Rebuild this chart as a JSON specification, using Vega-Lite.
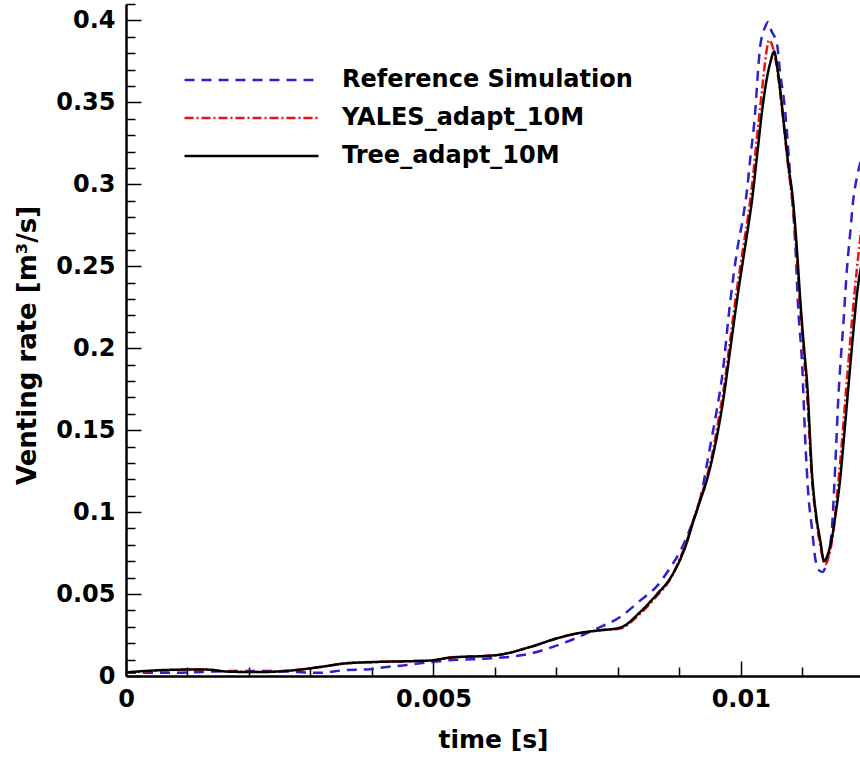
{
  "$schema": "https://vega.github.io/schema/vega-lite/v6.json",
  "width": 734,
  "height": 672,
  "autosize": {"type": "none"},
  "padding": {"left": 126, "top": 4, "right": 0, "bottom": 86},
  "background": "white",
  "config": {"view": {"stroke": null}, "font": "DejaVu Sans"},
  "data": {"values": [
    {"s":"Reference Simulation","t":0,"v":0.002},
    {"s":"Reference Simulation","t":0.000830,"v":0.002},
    {"s":"Reference Simulation","t":0.001643,"v":0.003},
    {"s":"Reference Simulation","t":0.002343,"v":0.003},
    {"s":"Reference Simulation","t":0.003157,"v":0.002},
    {"s":"Reference Simulation","t":0.003596,"v":0.0037},
    {"s":"Reference Simulation","t":0.003921,"v":0.004},
    {"s":"Reference Simulation","t":0.004247,"v":0.0055},
    {"s":"Reference Simulation","t":0.004572,"v":0.0067},
    {"s":"Reference Simulation","t":0.004946,"v":0.0085},
    {"s":"Reference Simulation","t":0.005223,"v":0.0095},
    {"s":"Reference Simulation","t":0.006037,"v":0.011},
    {"s":"Reference Simulation","t":0.006460,"v":0.0128},
    {"s":"Reference Simulation","t":0.007110,"v":0.020},
    {"s":"Reference Simulation","t":0.007664,"v":0.029},
    {"s":"Reference Simulation","t":0.008038,"v":0.036},
    {"s":"Reference Simulation","t":0.008363,"v":0.046},
    {"s":"Reference Simulation","t":0.008640,"v":0.055},
    {"s":"Reference Simulation","t":0.008851,"v":0.066},
    {"s":"Reference Simulation","t":0.009014,"v":0.076},
    {"s":"Reference Simulation","t":0.009177,"v":0.090},
    {"s":"Reference Simulation","t":0.009340,"v":0.108},
    {"s":"Reference Simulation","t":0.009502,"v":0.140},
    {"s":"Reference Simulation","t":0.009600,"v":0.160},
    {"s":"Reference Simulation","t":0.009698,"v":0.183},
    {"s":"Reference Simulation","t":0.009828,"v":0.228},
    {"s":"Reference Simulation","t":0.009942,"v":0.260},
    {"s":"Reference Simulation","t":0.010039,"v":0.280},
    {"s":"Reference Simulation","t":0.010104,"v":0.297},
    {"s":"Reference Simulation","t":0.010153,"v":0.315},
    {"s":"Reference Simulation","t":0.010235,"v":0.344},
    {"s":"Reference Simulation","t":0.010283,"v":0.370},
    {"s":"Reference Simulation","t":0.010316,"v":0.384},
    {"s":"Reference Simulation","t":0.010397,"v":0.396},
    {"s":"Reference Simulation","t":0.010446,"v":0.399},
    {"s":"Reference Simulation","t":0.010495,"v":0.394},
    {"s":"Reference Simulation","t":0.010592,"v":0.385},
    {"s":"Reference Simulation","t":0.010641,"v":0.368},
    {"s":"Reference Simulation","t":0.010722,"v":0.345},
    {"s":"Reference Simulation","t":0.010755,"v":0.330},
    {"s":"Reference Simulation","t":0.010804,"v":0.305},
    {"s":"Reference Simulation","t":0.010885,"v":0.265},
    {"s":"Reference Simulation","t":0.010934,"v":0.225},
    {"s":"Reference Simulation","t":0.010999,"v":0.190},
    {"s":"Reference Simulation","t":0.011048,"v":0.145},
    {"s":"Reference Simulation","t":0.011097,"v":0.112},
    {"s":"Reference Simulation","t":0.011162,"v":0.089},
    {"s":"Reference Simulation","t":0.011211,"v":0.072},
    {"s":"Reference Simulation","t":0.011260,"v":0.065},
    {"s":"Reference Simulation","t":0.011325,"v":0.0635},
    {"s":"Reference Simulation","t":0.011390,"v":0.068},
    {"s":"Reference Simulation","t":0.011487,"v":0.092},
    {"s":"Reference Simulation","t":0.011520,"v":0.115},
    {"s":"Reference Simulation","t":0.011552,"v":0.140},
    {"s":"Reference Simulation","t":0.011585,"v":0.168},
    {"s":"Reference Simulation","t":0.011617,"v":0.188},
    {"s":"Reference Simulation","t":0.011666,"v":0.213},
    {"s":"Reference Simulation","t":0.011731,"v":0.250},
    {"s":"Reference Simulation","t":0.011780,"v":0.270},
    {"s":"Reference Simulation","t":0.011829,"v":0.290},
    {"s":"Reference Simulation","t":0.011894,"v":0.305},
    {"s":"Reference Simulation","t":0.011959,"v":0.315},
    {"s":"YALES_adapt_10M","t":0,"v":0.002},
    {"s":"YALES_adapt_10M","t":0.000667,"v":0.0035},
    {"s":"YALES_adapt_10M","t":0.001253,"v":0.004},
    {"s":"YALES_adapt_10M","t":0.001692,"v":0.0027},
    {"s":"YALES_adapt_10M","t":0.002180,"v":0.0025},
    {"s":"YALES_adapt_10M","t":0.002782,"v":0.0037},
    {"s":"YALES_adapt_10M","t":0.003157,"v":0.0055},
    {"s":"YALES_adapt_10M","t":0.003596,"v":0.0078},
    {"s":"YALES_adapt_10M","t":0.004019,"v":0.0085},
    {"s":"YALES_adapt_10M","t":0.004979,"v":0.0095},
    {"s":"YALES_adapt_10M","t":0.005223,"v":0.011},
    {"s":"YALES_adapt_10M","t":0.006037,"v":0.0128},
    {"s":"YALES_adapt_10M","t":0.006574,"v":0.0177},
    {"s":"YALES_adapt_10M","t":0.007013,"v":0.023},
    {"s":"YALES_adapt_10M","t":0.007338,"v":0.026},
    {"s":"YALES_adapt_10M","t":0.007664,"v":0.0277},
    {"s":"YALES_adapt_10M","t":0.008038,"v":0.029},
    {"s":"YALES_adapt_10M","t":0.008363,"v":0.038},
    {"s":"YALES_adapt_10M","t":0.008640,"v":0.049},
    {"s":"YALES_adapt_10M","t":0.008851,"v":0.059},
    {"s":"YALES_adapt_10M","t":0.009014,"v":0.072},
    {"s":"YALES_adapt_10M","t":0.009128,"v":0.083},
    {"s":"YALES_adapt_10M","t":0.009226,"v":0.095},
    {"s":"YALES_adapt_10M","t":0.009340,"v":0.108},
    {"s":"YALES_adapt_10M","t":0.009437,"v":0.120},
    {"s":"YALES_adapt_10M","t":0.009551,"v":0.138},
    {"s":"YALES_adapt_10M","t":0.009632,"v":0.155},
    {"s":"YALES_adapt_10M","t":0.009714,"v":0.173},
    {"s":"YALES_adapt_10M","t":0.009828,"v":0.205},
    {"s":"YALES_adapt_10M","t":0.009942,"v":0.237},
    {"s":"YALES_adapt_10M","t":0.010055,"v":0.265},
    {"s":"YALES_adapt_10M","t":0.010121,"v":0.281},
    {"s":"YALES_adapt_10M","t":0.010186,"v":0.300},
    {"s":"YALES_adapt_10M","t":0.010267,"v":0.330},
    {"s":"YALES_adapt_10M","t":0.010348,"v":0.358},
    {"s":"YALES_adapt_10M","t":0.010397,"v":0.375},
    {"s":"YALES_adapt_10M","t":0.010462,"v":0.388},
    {"s":"YALES_adapt_10M","t":0.010527,"v":0.383},
    {"s":"YALES_adapt_10M","t":0.010592,"v":0.370},
    {"s":"YALES_adapt_10M","t":0.010641,"v":0.356},
    {"s":"YALES_adapt_10M","t":0.010690,"v":0.339},
    {"s":"YALES_adapt_10M","t":0.010771,"v":0.311},
    {"s":"YALES_adapt_10M","t":0.010853,"v":0.285},
    {"s":"YALES_adapt_10M","t":0.010918,"v":0.253},
    {"s":"YALES_adapt_10M","t":0.010967,"v":0.226},
    {"s":"YALES_adapt_10M","t":0.011032,"v":0.194},
    {"s":"YALES_adapt_10M","t":0.011081,"v":0.170},
    {"s":"YALES_adapt_10M","t":0.011162,"v":0.118},
    {"s":"YALES_adapt_10M","t":0.011227,"v":0.096},
    {"s":"YALES_adapt_10M","t":0.011292,"v":0.080},
    {"s":"YALES_adapt_10M","t":0.011373,"v":0.068},
    {"s":"YALES_adapt_10M","t":0.011438,"v":0.074},
    {"s":"YALES_adapt_10M","t":0.011503,"v":0.087},
    {"s":"YALES_adapt_10M","t":0.011552,"v":0.105},
    {"s":"YALES_adapt_10M","t":0.011617,"v":0.130},
    {"s":"YALES_adapt_10M","t":0.011683,"v":0.160},
    {"s":"YALES_adapt_10M","t":0.011748,"v":0.190},
    {"s":"YALES_adapt_10M","t":0.011829,"v":0.225},
    {"s":"YALES_adapt_10M","t":0.011894,"v":0.250},
    {"s":"YALES_adapt_10M","t":0.011959,"v":0.272},
    {"s":"Tree_adapt_10M","t":0,"v":0.0022},
    {"s":"Tree_adapt_10M","t":0.000667,"v":0.0037},
    {"s":"Tree_adapt_10M","t":0.001253,"v":0.004},
    {"s":"Tree_adapt_10M","t":0.001692,"v":0.0026},
    {"s":"Tree_adapt_10M","t":0.002180,"v":0.0024},
    {"s":"Tree_adapt_10M","t":0.002782,"v":0.0037},
    {"s":"Tree_adapt_10M","t":0.003157,"v":0.0055},
    {"s":"Tree_adapt_10M","t":0.003596,"v":0.0078},
    {"s":"Tree_adapt_10M","t":0.004019,"v":0.0085},
    {"s":"Tree_adapt_10M","t":0.004979,"v":0.0095},
    {"s":"Tree_adapt_10M","t":0.005223,"v":0.011},
    {"s":"Tree_adapt_10M","t":0.006037,"v":0.0128},
    {"s":"Tree_adapt_10M","t":0.006574,"v":0.0177},
    {"s":"Tree_adapt_10M","t":0.007013,"v":0.023},
    {"s":"Tree_adapt_10M","t":0.007338,"v":0.026},
    {"s":"Tree_adapt_10M","t":0.007664,"v":0.0277},
    {"s":"Tree_adapt_10M","t":0.008038,"v":0.0295},
    {"s":"Tree_adapt_10M","t":0.008363,"v":0.039},
    {"s":"Tree_adapt_10M","t":0.008640,"v":0.050},
    {"s":"Tree_adapt_10M","t":0.008851,"v":0.0595},
    {"s":"Tree_adapt_10M","t":0.009014,"v":0.071},
    {"s":"Tree_adapt_10M","t":0.009128,"v":0.082},
    {"s":"Tree_adapt_10M","t":0.009226,"v":0.094},
    {"s":"Tree_adapt_10M","t":0.009340,"v":0.107},
    {"s":"Tree_adapt_10M","t":0.009437,"v":0.118},
    {"s":"Tree_adapt_10M","t":0.009551,"v":0.135},
    {"s":"Tree_adapt_10M","t":0.009632,"v":0.150},
    {"s":"Tree_adapt_10M","t":0.009714,"v":0.168},
    {"s":"Tree_adapt_10M","t":0.009828,"v":0.199},
    {"s":"Tree_adapt_10M","t":0.009942,"v":0.230},
    {"s":"Tree_adapt_10M","t":0.010055,"v":0.258},
    {"s":"Tree_adapt_10M","t":0.010121,"v":0.274},
    {"s":"Tree_adapt_10M","t":0.010186,"v":0.291},
    {"s":"Tree_adapt_10M","t":0.010267,"v":0.318},
    {"s":"Tree_adapt_10M","t":0.010348,"v":0.345},
    {"s":"Tree_adapt_10M","t":0.010413,"v":0.362},
    {"s":"Tree_adapt_10M","t":0.010479,"v":0.374},
    {"s":"Tree_adapt_10M","t":0.010544,"v":0.381},
    {"s":"Tree_adapt_10M","t":0.010592,"v":0.372},
    {"s":"Tree_adapt_10M","t":0.010641,"v":0.358},
    {"s":"Tree_adapt_10M","t":0.010690,"v":0.341},
    {"s":"Tree_adapt_10M","t":0.010771,"v":0.313},
    {"s":"Tree_adapt_10M","t":0.010853,"v":0.289},
    {"s":"Tree_adapt_10M","t":0.010918,"v":0.258},
    {"s":"Tree_adapt_10M","t":0.010967,"v":0.230},
    {"s":"Tree_adapt_10M","t":0.011032,"v":0.199},
    {"s":"Tree_adapt_10M","t":0.011081,"v":0.178},
    {"s":"Tree_adapt_10M","t":0.011162,"v":0.122},
    {"s":"Tree_adapt_10M","t":0.011227,"v":0.098},
    {"s":"Tree_adapt_10M","t":0.011292,"v":0.083},
    {"s":"Tree_adapt_10M","t":0.011357,"v":0.070},
    {"s":"Tree_adapt_10M","t":0.011422,"v":0.075},
    {"s":"Tree_adapt_10M","t":0.011487,"v":0.085},
    {"s":"Tree_adapt_10M","t":0.011552,"v":0.101},
    {"s":"Tree_adapt_10M","t":0.011617,"v":0.120},
    {"s":"Tree_adapt_10M","t":0.011683,"v":0.147},
    {"s":"Tree_adapt_10M","t":0.011748,"v":0.175},
    {"s":"Tree_adapt_10M","t":0.011829,"v":0.209},
    {"s":"Tree_adapt_10M","t":0.011894,"v":0.234},
    {"s":"Tree_adapt_10M","t":0.011959,"v":0.250}
  ]},
  "mark": {"type": "line", "strokeWidth": 2.5, "clip": true, "interpolate": "monotone"},
  "encoding": {
    "x": {
      "field": "t", "type": "quantitative",
      "scale": {"domain": [0, 0.01194], "nice": false, "zero": false},
      "axis": {
        "title": "time [s]",
        "values": [0, 0.001, 0.002, 0.003, 0.004, 0.005, 0.006, 0.007, 0.008, 0.009, 0.01, 0.011],
        "labelExpr": "abs(datum.value*200 - round(datum.value*200)) < 1e-6 ? format(datum.value, '~g') : ''",
        "tickSize": {"condition": {"test": "abs(datum.value*200 - round(datum.value*200)) < 1e-6", "value": -15}, "value": -9},
        "tickWidth": 1.5, "tickColor": "black",
        "domainWidth": 2.5, "domainColor": "black",
        "labelPadding": 26, "labelFlush": false, "labelOverlap": false, "labelBound": false,
        "labelFont": "DejaVu Sans", "labelFontSize": 24, "labelFontWeight": "bold", "labelColor": "black",
        "titleFont": "DejaVu Sans", "titleFontSize": 25, "titleFontWeight": "bold", "titleColor": "black",
        "titleX": 367, "titleY": 71, "titleAlign": "center", "titleBaseline": "alphabetic",
        "grid": false
      }
    },
    "y": {
      "field": "v", "type": "quantitative",
      "scale": {"domain": [0, 0.41], "nice": false, "zero": true},
      "axis": {
        "title": "Venting rate [m³/s]",
        "values": [0, 0.01, 0.02, 0.03, 0.04, 0.05, 0.06, 0.07, 0.08, 0.09, 0.1, 0.11, 0.12, 0.13, 0.14, 0.15, 0.16, 0.17, 0.18, 0.19, 0.2, 0.21, 0.22, 0.23, 0.24, 0.25, 0.26, 0.27, 0.28, 0.29, 0.3, 0.31, 0.32, 0.33, 0.34, 0.35, 0.36, 0.37, 0.38, 0.39, 0.4, 0.41],
        "labelExpr": "abs(datum.value*20 - round(datum.value*20)) < 1e-6 ? format(datum.value, '~g') : ''",
        "tickSize": {"condition": {"test": "abs(datum.value*20 - round(datum.value*20)) < 1e-6", "value": -15}, "value": -9},
        "tickWidth": 1.5, "tickColor": "black",
        "domainWidth": 2.5, "domainColor": "black",
        "labelPadding": 26, "labelFlush": false, "labelOverlap": false, "labelBound": false,
        "labelFont": "DejaVu Sans", "labelFontSize": 24, "labelFontWeight": "bold", "labelColor": "black",
        "titleFont": "DejaVu Sans", "titleFontSize": 26, "titleFontWeight": "bold", "titleColor": "black",
        "titleX": -91, "titleY": 341, "titleAngle": -90, "titleAlign": "center", "titleBaseline": "alphabetic",
        "grid": false
      }
    },
    "color": {
      "field": "s", "type": "nominal",
      "scale": {"domain": ["Reference Simulation", "YALES_adapt_10M", "Tree_adapt_10M"], "range": ["#3020cc", "#ee1111", "#000000"]},
      "legend": {"orient": "none", "legendX": 57, "legendY": 63, "title": null, "symbolType": "stroke", "symbolSize": 17956, "symbolStrokeWidth": 2.5, "clipHeight": 26, "rowPadding": 12, "labelOffset": 22, "labelFont": "DejaVu Sans", "labelFontSize": 24, "labelFontWeight": "bold", "labelColor": "black", "padding": 0, "labelLimit": 0}
    },
    "strokeDash": {
      "field": "s", "type": "nominal",
      "scale": {"domain": ["Reference Simulation", "YALES_adapt_10M", "Tree_adapt_10M"], "range": [[10, 7], [9, 3, 2, 3], [1, 0]]},
      "legend": {"orient": "none", "legendX": 57, "legendY": 63, "title": null, "symbolType": "stroke", "symbolSize": 17956, "symbolStrokeWidth": 2.5, "clipHeight": 26, "rowPadding": 12, "labelOffset": 22, "labelFont": "DejaVu Sans", "labelFontSize": 24, "labelFontWeight": "bold", "labelColor": "black", "padding": 0, "labelLimit": 0}
    }
  }
}
